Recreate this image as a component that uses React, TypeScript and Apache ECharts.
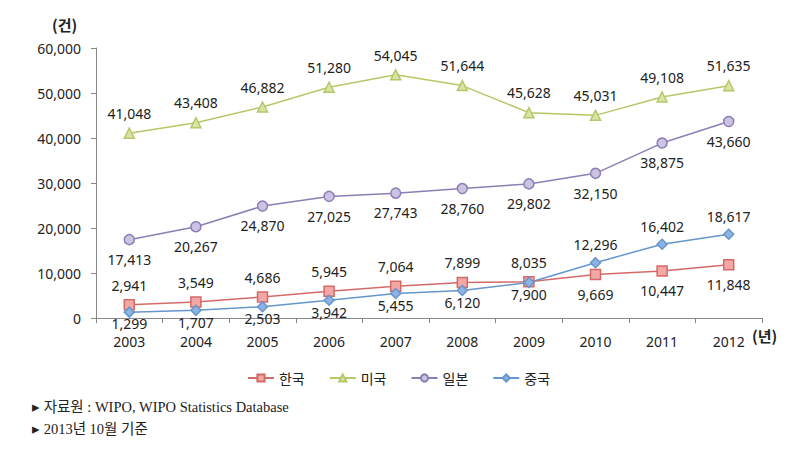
import React, { useEffect, useRef } from "react";
import * as echarts from "echarts";

const years = ["2003", "2004", "2005", "2006", "2007", "2008", "2009", "2010", "2011", "2012"];
const korea = [2941, 3549, 4686, 5945, 7064, 7899, 8035, 9669, 10447, 11848];
const usa = [41048, 43408, 46882, 51280, 54045, 51644, 45628, 45031, 49108, 51635];
const japan = [17413, 20267, 24870, 27025, 27743, 28760, 29802, 32150, 38875, 43660];
const china = [1299, 1707, 2503, 3942, 5455, 6120, 7900, 12296, 16402, 18617];
const seriesNames = ["한국", "미국", "일본", "중국"];
const yTicks = [0, 10000, 20000, 30000, 40000, 50000, 60000];

const numFont = "'Noto Sans', 'Noto Sans CJK KR', sans-serif";
const fmt = (v: number) => v.toLocaleString("en-US");

export default function App() {
  const ref = useRef<HTMLDivElement>(null);
  useEffect(() => {
    const chart = echarts.init(ref.current!, undefined, { renderer: "svg" });
    const mk = (
      name: string,
      values: number[],
      color: string,
      fill: string,
      symbol: string,
      size: number,
      posFn: (i: number) => string,
      distFn: (i: number) => number
    ) => ({
      name,
      type: "line",
      data: values.map((v, i) => ({
        value: v,
        label: { position: posFn(i), distance: distFn(i) },
      })),
      symbol,
      symbolSize: size,
      showAllSymbol: true,
      lineStyle: { color, width: 1.5 },
      itemStyle: { color: fill, borderColor: color, borderWidth: 1.5 },
      label: {
        show: true,
        formatter: (p: any) => fmt(p.value),
        fontFamily: numFont,
        fontSize: 14,
        lineHeight: 12,
        color: "#222",
      },
      emphasis: { disabled: true },
      z: 3,
    });
    chart.setOption({
      animation: false,
      grid: { left: 96, right: 35, top: 48, bottom: 139, containLabel: false },
      legend: {
        data: seriesNames,
        top: 366,
        left: "center",
        itemWidth: 26,
        itemHeight: 9,
        itemGap: 24,
        textStyle: { fontFamily: "'Noto Sans CJK KR', sans-serif", fontSize: 14, color: "#222" },
      },
      xAxis: {
        type: "category",
        data: years,
        boundaryGap: true,
        axisLine: { lineStyle: { color: "#888", width: 1 } },
        axisTick: { show: true, inside: false, length: 5, lineStyle: { color: "#888" } },
        axisLabel: { fontFamily: numFont, fontSize: 14, lineHeight: 12, color: "#222", margin: 17 },
      },
      yAxis: {
        type: "value",
        min: 0,
        max: 60000,
        interval: 10000,
        axisLine: { show: true, lineStyle: { color: "#888", width: 1 } },
        axisTick: { show: true, length: 5, lineStyle: { color: "#888" } },
        splitLine: { show: false },
        axisLabel: {
          fontFamily: numFont,
          fontSize: 14,
          color: "#222",
          margin: 15,
          formatter: (v: number) => (yTicks.includes(v) ? fmt(v) : ""),
        },
      },
      graphic: [
        {
          type: "text",
          left: 52,
          top: 17,
          style: { text: "(건)", font: "bold 15px 'Noto Sans CJK KR', sans-serif", fill: "#222" },
        },
        {
          type: "text",
          left: 752,
          top: 328,
          style: { text: "(년)", font: "bold 15px 'Noto Sans CJK KR', sans-serif", fill: "#222" },
        },
        {
          type: "text",
          left: 32,
          top: 400,
          style: {
            text: "▸ 자료원 : WIPO, WIPO Statistics Database",
            font: "14.5px 'Liberation Serif', 'Noto Sans CJK KR', serif",
            fill: "#222",
          },
        },
        {
          type: "text",
          left: 32,
          top: 422,
          style: {
            text: "▸ 2013년 10월 기준",
            font: "14.5px 'Liberation Serif', 'Noto Sans CJK KR', serif",
            fill: "#222",
          },
        },
      ],
      series: [
        mk(seriesNames[0], korea, "#D46A68", "#F3A8A6", "rect", 10, (i) => (i < 7 ? "top" : "bottom"), () => 8),
        mk(seriesNames[1], usa, "#B4C868", "#D8E4A6", "triangle", 10, () => "top", () => 8),
        mk(seriesNames[2], japan, "#8A7FB5", "#CCC3E3", "circle", 10, () => "bottom", () => 8),
        mk(seriesNames[3], china, "#6596CC", "#8DB3E2", "diamond", 10, (i) => (i < 7 ? "bottom" : "top"), (i) => (i < 7 ? 0 : 6)),
      ],
    });
    return () => chart.dispose();
  }, []);
  return (
    <div
      ref={ref}
      style={{ position: "absolute", left: 0, top: 0, width: 797, height: 457, background: "#fff" }}
    />
  );
}
